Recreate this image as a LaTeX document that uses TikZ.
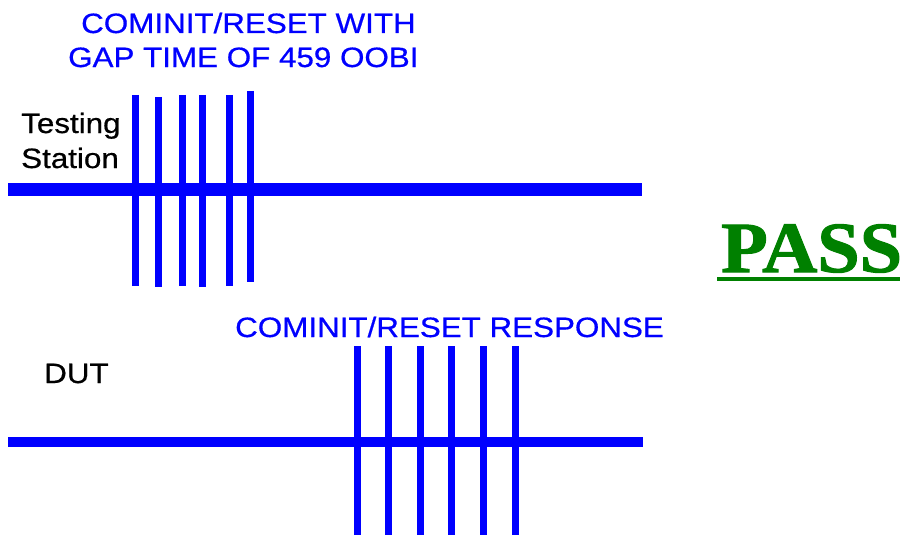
\documentclass[tikz,border=0pt]{standalone}
\usepackage{fontspec}
\setmainfont{Liberation Sans}[FakeStretch=1.12,FakeBold=0.6]
\newfontfamily\passfont{Liberation Serif}[FakeStretch=1.06,FakeBold=1.5]
\definecolor{sigblue}{RGB}{0,0,255}
\definecolor{passgreen}{RGB}{0,128,0}
\begin{document}
\begin{tikzpicture}[x=1pt,y=-1pt,
  bus/.style={draw=sigblue,line width=10pt},
  pulse/.style={draw=sigblue,line width=7pt},
  bluelbl/.style={text=sigblue,font=\fontsize{28}{34}\selectfont,inner sep=0pt,anchor=base west},
  blacklbl/.style={text=black,font=\fontsize{28}{34}\selectfont,inner sep=0pt,anchor=base west}]
\useasboundingbox (0,0) rectangle (903,535);
% labels
\node[bluelbl] (t1) at (81,33) {COMINIT/RESET WITH};
\node[bluelbl] (t2) at (68,67) {GAP TIME OF 459 OOBI};
\node[blacklbl] (ts1) at (21,133) {Testing};
\node[blacklbl] (ts2) at (21,168) {Station};
\node[bluelbl] (r1) at (235,337) {COMINIT/RESET RESPONSE};
\node[blacklbl] (dut) at (44,383) {DUT};
% top bus
\coordinate (a1) at (8,189.5);
\coordinate (a2) at (642,189.5);
\draw[bus,line width=13pt] (a1) -- (a2);
\foreach \x/\t/\b in {135/95/286,158/97/287,182/95/286,202/95/287,229/95/286,250/91/282}{
  \draw[pulse] (\x,\t) -- (\x,\b);
}
% bottom bus
\coordinate (b1) at (8,442);
\coordinate (b2) at (643,442);
\draw[bus] (b1) -- (b2);
\foreach \x in {357,388,420,451,483,515}{
  \draw[pulse] (\x,346) -- (\x,540);
}
% PASS
\node[text=passgreen,font=\passfont\bfseries\fontsize{72}{80}\selectfont,inner sep=0pt,anchor=base west] (pass) at (721,272) {PASS};
\draw[draw=passgreen,line width=4pt] (717,279) -- (900,279);
\end{tikzpicture}
\end{document}
